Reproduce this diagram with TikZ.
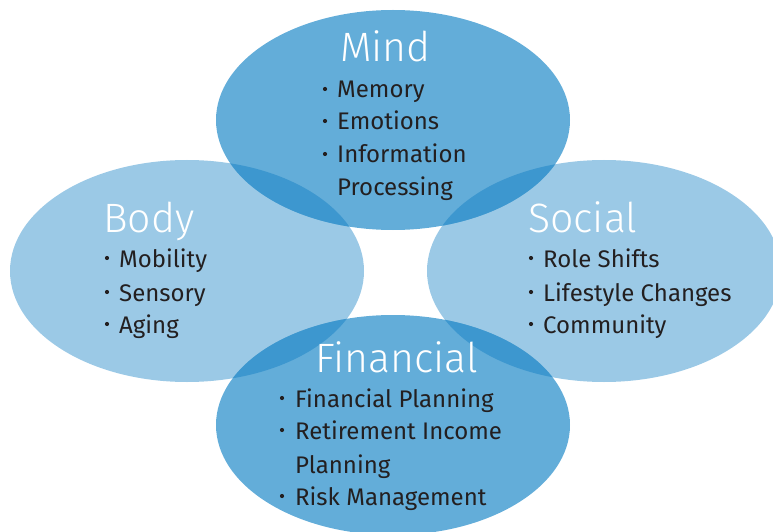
\documentclass[tikz,border=0pt]{standalone}
\usepackage{fontspec}
\setmainfont{Fira Sans}
\newfontfamily\lightfont{Fira Sans Light}
\definecolor{lightb}{HTML}{9BC9E6}
\definecolor{midb}{HTML}{63ADD9}
\definecolor{darkb}{HTML}{3D97CF}
\definecolor{txt}{HTML}{231F20}
\tikzset{
  ttl/.style={anchor=base west, text=white, font=\lightfont\fontsize{41}{41}\selectfont, inner sep=0pt},
  itm/.style={anchor=base west, text=txt, font=\fontsize{24}{24}\selectfont, inner sep=0pt},
  bul/.style={circle, fill=txt, inner sep=0pt, minimum size=4.2pt}
}
\newcommand\mindE{(393,411) ellipse (177 and 110)}
\newcommand\bodyE{(187,260) ellipse (177 and 111)}
\newcommand\socE{(604,260) ellipse (177 and 111)}
\newcommand\finE{(393,106) ellipse (177 and 110)}
\begin{document}
\begin{tikzpicture}[x=1pt,y=1pt]
\useasboundingbox (0,0) rectangle (773,531);
\clip (0,0) rectangle (773,531);
% ellipses
\fill[lightb] \bodyE;
\fill[lightb] \socE;
\fill[midb] \mindE;
\fill[midb] \finE;
% overlaps
\begin{scope}\clip \mindE; \fill[darkb] \bodyE; \fill[darkb] \socE; \end{scope}
\begin{scope}\clip \finE; \fill[darkb] \bodyE; \fill[darkb] \socE; \end{scope}
% Mind
\node[ttl] (mindT) at (340,469) {Mind};
\node[bul] (mb1) at (325,442) {};
\node[itm] (m1) at (337,433) {Memory};
\node[bul] (mb2) at (325,410) {};
\node[itm] (m2) at (337,401) {Emotions};
\node[bul] (mb3) at (325,377) {};
\node[itm] (m3) at (337,368) {Information};
\node[itm] (m4) at (337,336) {Processing};
% Body
\node[ttl] (bodyT) at (103,299) {Body};
\node[bul] (bb1) at (107,273) {};
\node[itm] (b1) at (119,264) {Mobility};
\node[bul] (bb2) at (107,239) {};
\node[itm] (b2) at (119,230) {Sensory};
\node[bul] (bb3) at (107,207) {};
\node[itm] (b3) at (119,198) {Aging};
% Social
\node[ttl] (socT) at (528,299) {Social};
\node[bul] (sb1) at (531,273) {};
\node[itm] (s1) at (543,264) {Role Shifts};
\node[bul] (sb2) at (531,239) {};
\node[itm] (s2) at (543,230) {Lifestyle Changes};
\node[bul] (sb3) at (531,207) {};
\node[itm] (s3) at (543,198) {Community};
% Financial
\node[ttl] (finT) at (315,159) {Financial};
\node[bul] (fb1) at (282,133) {};
\node[itm] (f1) at (295,124) {Financial Planning};
\node[bul] (fb2) at (282,101) {};
\node[itm] (f2) at (295,92) {Retirement Income};
\node[itm] (f3) at (295,58) {Planning};
\node[bul] (fb3) at (282,35) {};
\node[itm] (f4) at (295,26) {Risk Management};
\end{tikzpicture}
\end{document}
